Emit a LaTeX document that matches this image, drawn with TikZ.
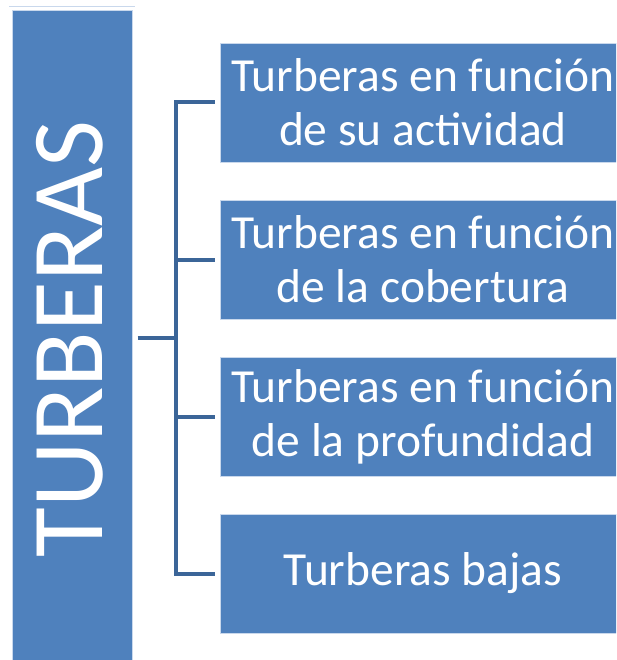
\documentclass[tikz,border=0pt]{standalone}
\usepackage{fontspec}
\setmainfont{Carlito}
\definecolor{boxblue}{HTML}{4F81BD}
\definecolor{linkblue}{HTML}{3B6598}
\definecolor{edgeblue}{HTML}{C9D8EC}
\begin{document}
\begin{tikzpicture}[x=1pt,y=-1pt,
  itembox/.style={fill=boxblue, draw=edgeblue, line width=0.6pt, minimum width=406pt, minimum height=119pt, inner sep=0pt, text=white, align=center, font=\fontsize{47.5}{54}\selectfont},
  link/.style={draw=linkblue, line width=4pt}]
\useasboundingbox (0,0) rectangle (616,660);
\begin{scope}
\clip (0,0) rectangle (616,660);
\draw[edgeblue, line width=1pt] (9,7) -- (135,7);
\node[fill=boxblue, draw=edgeblue, line width=0.6pt, minimum width=120pt, minimum height=660pt, inner sep=0pt, anchor=north west] (main) at (12,10) {};
\node[rotate=90, anchor=base, inner sep=0pt, text=white, font=\fontsize{102}{110}\selectfont] (title) at (102,339) {TURBERAS};
\node[itembox] (b1) at (423,102.5) {Turberas en función\\de su actividad};
\node[itembox] (b2) at (423,259.5) {Turberas en función\\de la cobertura};
\node[itembox] (b3) at (423,416.5) {Turberas en función\\de la profundidad};
\node[itembox] (b4) at (423,573.5) {Turberas bajas};
\coordinate (bx) at (176,338);
\draw[link] (main.east |- bx) ++(5,0) -- (bx);
\draw[link, line join=miter] ([xshift=-5pt]b1.west) -| (bx) |- ([xshift=-5pt]b4.west);
\draw[link] (bx |- b2.west) -- ([xshift=-5pt]b2.west);
\draw[link] (bx |- b3.west) -- ([xshift=-5pt]b3.west);
\end{scope}
\end{tikzpicture}
\end{document}
